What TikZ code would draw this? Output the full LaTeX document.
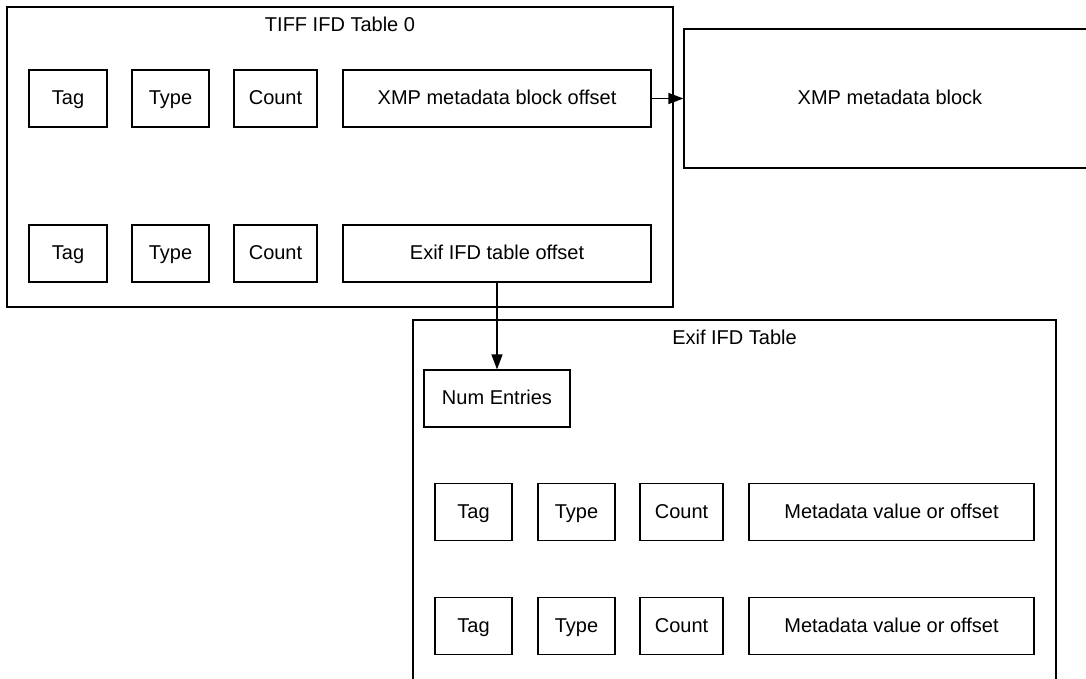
\documentclass[tikz,border=0pt]{standalone}
\usepackage{fontspec}
\setmainfont{Liberation Sans}
\usetikzlibrary{arrows.meta}
\begin{document}
\begin{tikzpicture}[x=1pt,y=-1pt,
  frame/.style={draw, line width=1.2pt, inner sep=0pt},
  cell/.style={draw, line width=1.2pt, inner sep=0pt, minimum height=57pt, text height=17pt, text depth=5pt, font=\fontsize{20}{24}\selectfont},
  label/.style={inner sep=0pt, text height=17pt, text depth=5pt, font=\fontsize{20}{24}\selectfont},
  link/.style={line width=1.2pt, -{Triangle[length=15pt,width=11pt]}}]
\clip (0,0) rectangle (1086,679);
\fill[white] (0,0) rectangle (1086,679);
% TIFF IFD Table 0
\node[frame, minimum width=666pt, minimum height=300pt] (tiff) at (340,157) {};
\node[label] (tifftitle) at (340,26) {TIFF IFD Table 0};
\node[cell, minimum width=78pt] (tag1) at (68,98.5) {Tag};
\node[cell, minimum width=77pt] (type1) at (170.5,98.5) {Type};
\node[cell, minimum width=83pt] (count1) at (275.5,98.5) {Count};
\node[cell, minimum width=308pt] (xmpoff) at (497,98.5) {XMP metadata block offset};
\node[cell, minimum width=78pt] (tag2) at (68,253.5) {Tag};
\node[cell, minimum width=77pt] (type2) at (170.5,253.5) {Type};
\node[cell, minimum width=83pt] (count2) at (275.5,253.5) {Count};
\node[cell, minimum width=308pt] (exifoff) at (497,253.5) {Exif IFD table offset};
% XMP block
\node[frame, minimum width=412pt, minimum height=139pt] (xmp) at (890,98.5) {};
\node[label] (xmptitle) at (890,98.5) {XMP metadata block};
% Exif IFD Table
\node[frame, minimum width=643pt, minimum height=420pt] (exif) at (734.5,530) {};
\node[label] (exiftitle) at (734.5,338) {Exif IFD Table};
\node[cell, minimum width=146pt] (num) at (497,398.5) {Num Entries};
\node[cell, minimum width=77pt] (tag3) at (473.5,512) {Tag};
\node[cell, minimum width=77pt] (type3) at (576.5,512) {Type};
\node[cell, minimum width=83pt] (count3) at (681.5,512) {Count};
\node[cell, minimum width=285pt] (meta3) at (891.5,512) {Metadata value or offset};
\node[cell, minimum width=77pt] (tag4) at (473.5,626) {Tag};
\node[cell, minimum width=77pt] (type4) at (576.5,626) {Type};
\node[cell, minimum width=83pt] (count4) at (681.5,626) {Count};
\node[cell, minimum width=285pt] (meta4) at (891.5,626) {Metadata value or offset};
% connectors
\draw[link] (xmpoff.east) -- (xmp.west |- xmpoff.east);
\draw[link] (exifoff.south) -- (num.north);
\end{tikzpicture}
\end{document}
